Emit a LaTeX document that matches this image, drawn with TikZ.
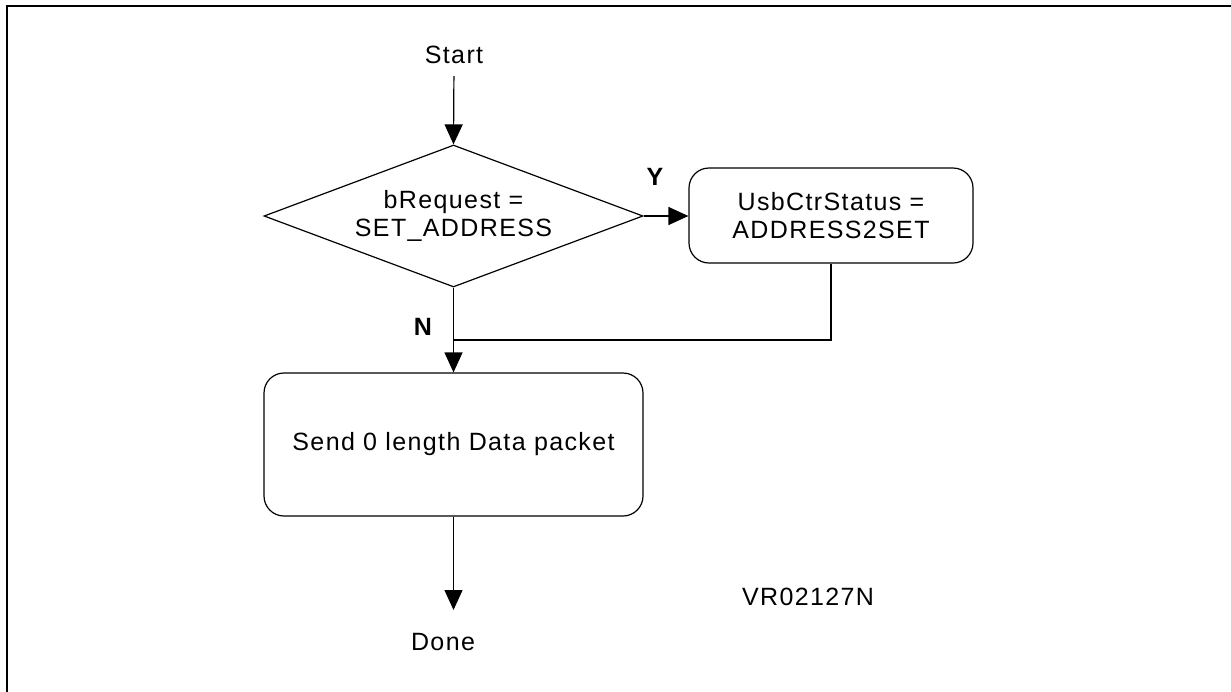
\documentclass[tikz,border=0pt]{standalone}
\usepackage{fontspec}
\setmainfont{Liberation Sans}[LetterSpace=5.5]
\usetikzlibrary{shapes.geometric,arrows.meta}
\begin{document}
\begin{tikzpicture}[x=1pt,y=-1pt,
  txt/.style={font=\fontsize{25}{28}\selectfont, align=center, inner sep=0pt},
  lbl/.style={font=\fontsize{25}{28}\selectfont\bfseries, inner sep=0pt},
  conn/.style={line width=1.2pt},
  arr/.style={conn, -{Triangle[width=18pt,length=20pt]}},
  rbox/.style={draw, line width=1.2pt, rounded corners=20pt, inner sep=0pt, txt},
  dec/.style={draw, diamond, aspect=2.67, line width=1.2pt, inner sep=0pt, txt}
]
\useasboundingbox (0,0) rectangle (1231,691);
\draw[line width=2.6pt] (7,700) -- (7,6) -- (1240,6);

\node[txt, anchor=south] (start) at (454,63.5) {Start};
\node[dec, minimum width=379pt, minimum height=142pt] (d) at (453.5,216) {bRequest =\\SET\_ADDRESS};
\node[rbox, minimum width=284pt, minimum height=95pt] (b1) at (831,215.5) {UsbCtrStatus =\\ADDRESS2SET};
\node[rbox, minimum width=379pt, minimum height=143pt] (b2) at (453.5,444.5) {Send 0 length Data packet};
\node[txt] (done) at (443,642) {Done};
\node[txt] (vr) at (808,597) {VR02127N};
\node[lbl] (y) at (655,177) {Y};
\node[lbl] (n) at (423,327) {N};
\coordinate (j) at (453.5,340);
\coordinate (dtip) at (453.5,610);

\draw[arr, shorten <=12.5pt] (start.south) -- (d.north);
\draw[arr] (d.east) -- (d.east -| b1.west);
\draw[conn] (b1.south) -- (b1.south |- j) -- (j);
\draw[arr] (d.south) -- (b2.north);
\draw[arr] (b2.south) -- (dtip);
\end{tikzpicture}
\end{document}
